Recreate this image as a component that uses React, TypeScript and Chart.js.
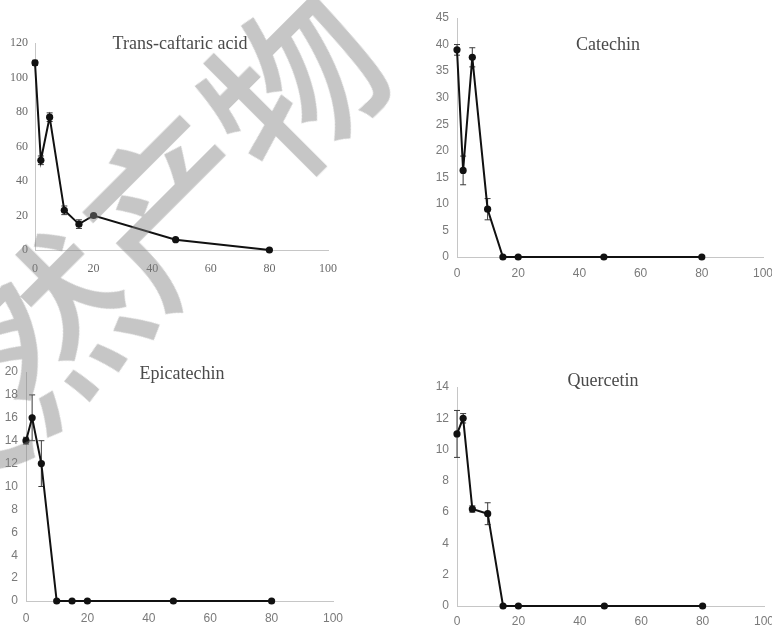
import React, { useEffect, useRef } from "react";
import { Chart, registerables } from "chart.js";

Chart.register(...registerables);

// ---- data ----
const timePoints = [0, 2, 5, 10, 15, 20, 48, 80];

const caftaricValues = [108.5, 52, 77, 23, 15, 20, 6, 0];
const caftaricErrors = [1.5, 2.5, 2.5, 2.5, 2.5, 0.5, 0.5, 0];

const catechinValues = [39, 16.3, 37.6, 9, 0, 0, 0, 0];
const catechinErrors = [1, 2.7, 1.8, 2, 0, 0, 0, 0];

const epicatechinValues = [14, 16, 12, 0, 0, 0, 0, 0];
const epicatechinErrors = [0.3, 2, 2, 0, 0, 0, 0, 0];

const quercetinValues = [11, 12, 6.2, 5.9, 0, 0, 0, 0];
const quercetinErrors = [1.5, 0.3, 0.2, 0.7, 0, 0, 0, 0];

const xTickStep = 20;
const xMax = 100;

const watermarkText = "天然产物";

type PanelProps = {
  title: string;
  values: number[];
  errors: number[];
  yMax: number;
  yStep: number;
  left: number;
  top: number;
  width: number;
  height: number;
  yAxisWidth: number;
  xAxisHeight: number;
  padTop: number;
  padRight: number;
  xPad: number;
  yPad: number;
  tickFamily: string;
  tickColor: string;
  titleX: number;
  titleY: number;
};

function Panel(p: PanelProps) {
  const ref = useRef<HTMLCanvasElement>(null);
  useEffect(() => {
    const canvas = ref.current;
    if (!canvas) return;
    const errorBars = {
      id: "errorBars",
      beforeDatasetsDraw(chart: any) {
        const c = chart.ctx;
        const xs = chart.scales.x;
        const ys = chart.scales.y;
        c.save();
        c.strokeStyle = "#3a3a3a";
        c.lineWidth = 1;
        p.values.forEach((v, i) => {
          const e = p.errors[i];
          if (!e) return;
          const x = xs.getPixelForValue(timePoints[i]);
          const y1 = ys.getPixelForValue(v + e);
          const y2 = ys.getPixelForValue(Math.max(0, v - e));
          c.beginPath();
          c.moveTo(x, y1);
          c.lineTo(x, y2);
          c.moveTo(x - 3, y1);
          c.lineTo(x + 3, y1);
          c.moveTo(x - 3, y2);
          c.lineTo(x + 3, y2);
          c.stroke();
        });
        c.restore();
      },
    };
    const titlePlugin = {
      id: "panelTitle",
      afterDraw(chart: any) {
        const c = chart.ctx;
        c.save();
        c.font = '18px "Liberation Serif"';
        c.fillStyle = "#4a4a4a";
        c.textAlign = "center";
        c.textBaseline = "alphabetic";
        c.fillText(p.title, p.titleX - p.left, p.titleY - p.top);
        c.restore();
      },
    };
    const chart = new Chart(canvas, {
      type: "line",
      data: {
        datasets: [
          {
            data: timePoints.map((t, i) => ({ x: t, y: p.values[i] })),
            borderColor: "#111111",
            borderWidth: 2,
            pointRadius: 3.6,
            pointBackgroundColor: "#111111",
            pointBorderColor: "#111111",
            pointBorderWidth: 0,
            tension: 0,
            fill: false,
            clip: false as any,
          },
        ],
      },
      options: {
        animation: false,
        responsive: false,
        maintainAspectRatio: false,
        layout: { padding: { top: p.padTop, right: p.padRight, left: 0, bottom: 0 } },
        plugins: {
          legend: { display: false },
          tooltip: { enabled: false },
          title: { display: false },
        },
        scales: {
          x: {
            type: "linear",
            min: 0,
            max: xMax,
            grid: { display: false, drawTicks: false },
            border: { display: true, color: "#c6c6c6", width: 1 },
            ticks: {
              stepSize: xTickStep,
              padding: p.xPad,
              color: p.tickColor,
              font: { family: p.tickFamily, size: 12 },
              maxRotation: 0,
              autoSkip: false,
            },
            afterFit: (s: any) => {
              s.height = p.xAxisHeight;
            },
          },
          y: {
            type: "linear",
            min: 0,
            max: p.yMax,
            grid: { display: false, drawTicks: false },
            border: { display: true, color: "#c6c6c6", width: 1 },
            ticks: {
              stepSize: p.yStep,
              padding: p.yPad,
              color: p.tickColor,
              font: { family: p.tickFamily, size: 12 },
              autoSkip: false,
            },
            afterFit: (s: any) => {
              s.width = p.yAxisWidth;
            },
          },
        },
      },
      plugins: [errorBars, titlePlugin],
    });
    return () => chart.destroy();
  }, []);
  return (
    <canvas
      ref={ref}
      width={p.width}
      height={p.height}
      style={{ position: "absolute", left: p.left, top: p.top, width: p.width, height: p.height }}
    />
  );
}

export default function App() {
  const serif = '"Liberation Serif", "Times New Roman", serif';
  const sans = '"Liberation Sans", Arial, sans-serif';
  const wmSize = 172;
  const wmCx = 105;
  const wmCy = 261;
  const wmW = wmSize * watermarkText.length;
  return (
    <div
      style={{
        position: "absolute",
        left: 0,
        top: 0,
        width: 772,
        height: 628,
        overflow: "hidden",
        background: "#ffffff",
      }}
    >
      <Panel
        title="Trans-caftaric acid"
        values={caftaricValues}
        errors={caftaricErrors}
        yMax={120}
        yStep={20}
        left={0}
        top={0}
        width={386}
        height={290}
        yAxisWidth={35}
        xAxisHeight={40}
        padTop={43}
        padRight={58}
        xPad={12}
        yPad={7}
        tickFamily={serif}
        tickColor="#6a6a6a"
        titleX={180}
        titleY={49}
      />
      <Panel
        title="Catechin"
        values={catechinValues}
        errors={catechinErrors}
        yMax={45}
        yStep={5}
        left={386}
        top={0}
        width={400}
        height={290}
        yAxisWidth={71}
        xAxisHeight={33}
        padTop={18}
        padRight={23}
        xPad={9}
        yPad={8}
        tickFamily={sans}
        tickColor="#7a7a7a"
        titleX={608}
        titleY={50}
      />
      <Panel
        title="Epicatechin"
        values={epicatechinValues}
        errors={epicatechinErrors}
        yMax={20}
        yStep={2}
        left={0}
        top={340}
        width={386}
        height={288}
        yAxisWidth={26}
        xAxisHeight={27}
        padTop={32}
        padRight={53}
        xPad={10}
        yPad={8}
        tickFamily={sans}
        tickColor="#7a7a7a"
        titleX={182}
        titleY={379}
      />
      <Panel
        title="Quercetin"
        values={quercetinValues}
        errors={quercetinErrors}
        yMax={14}
        yStep={2}
        left={386}
        top={340}
        width={400}
        height={288}
        yAxisWidth={71}
        xAxisHeight={22}
        padTop={47}
        padRight={22}
        xPad={8.5}
        yPad={8}
        tickFamily={sans}
        tickColor="#7a7a7a"
        titleX={603}
        titleY={386}
      />
      <div
        style={{
          position: "absolute",
          left: wmCx - wmW / 2,
          top: wmCy - wmSize / 2,
          width: wmW,
          height: wmSize,
          lineHeight: `${wmSize}px`,
          fontSize: wmSize,
          fontFamily: '"Noto Sans CJK SC", sans-serif',
          fontWeight: 500,
          textAlign: "center",
          whiteSpace: "nowrap",
          color: "rgba(128,128,128,0.45)",
          transform: "rotate(-45deg)",
          transformOrigin: "50% 50%",
          pointerEvents: "none",
        }}
      >
        {watermarkText}
      </div>
    </div>
  );
}
